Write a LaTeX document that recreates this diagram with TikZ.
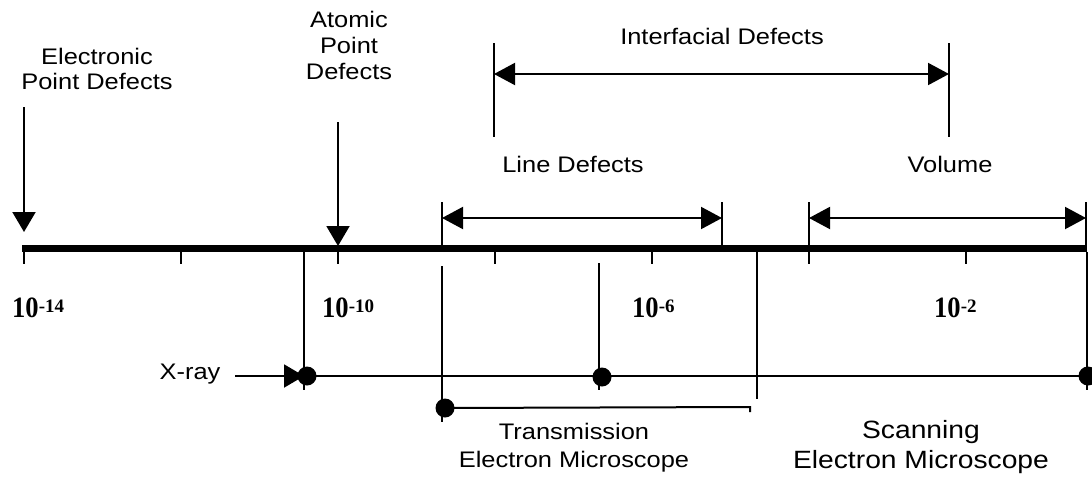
\documentclass[tikz,border=0pt]{standalone}
\usepackage{fontspec}
\newfontfamily\labfont[FakeStretch=1.13]{Liberation Sans}
\newfontfamily\numfont[FakeStretch=0.9]{Liberation Serif}
\newfontfamily\supfont{Liberation Serif}
\usetikzlibrary{arrows.meta}
\newcommand\myexp[1]{\raisebox{5pt}{\supfont\bfseries\fontsize{19}{20}\selectfont #1}}
\begin{document}
\begin{tikzpicture}[x=1pt,y=-1pt,
  thinline/.style={line width=2pt},
  axisline/.style={line width=7pt},
  lab/.style={font=\labfont\fontsize{22.5}{25.5}\selectfont, inner sep=0pt, align=center},
  big/.style={font=\labfont\fontsize{25}{30}\selectfont, inner sep=0pt, align=center},
  num/.style={font=\numfont\bfseries\fontsize{29.5}{30}\selectfont, inner sep=0pt, anchor=base west},
  dot/.style={circle, fill=black, inner sep=0pt, minimum size=19pt},
  darr/.style={line width=2pt, {Triangle[length=21pt,width=22pt]}-{Triangle[length=21pt,width=22pt]}},
  sarr/.style={line width=2pt, -{Triangle[length=20pt,width=23pt]}},
]
\useasboundingbox (0,0) rectangle (1092,477);

% labels
\node[lab] (elec) at (97,69) {Electronic\\Point Defects};
\node[lab, font=\labfont\fontsize{22.5}{26}\selectfont] (atom) at (349,45.5) {Atomic\\Point\\Defects};
\node[lab, anchor=base] (inter) at (722,44) {Interfacial Defects};
\node[lab, anchor=base] (linedef) at (573,172) {Line Defects};
\node[lab, anchor=base] (vol) at (950,172) {Volume};
\node[lab, anchor=base] (xray) at (190,379) {X-ray};
\node[lab, font=\labfont\fontsize{22.5}{28}\selectfont] (tem) at (574,448) {Transmission\\Electron Microscope};
\node[big] (sem) at (921,447) {Scanning\\Electron Microscope};

% scale labels
\node[num] (e14) at (12,317) {10\myexp{-14}};
\node[num] (e10) at (322,317) {10\myexp{-10}};
\node[num] (e6) at (632,317) {10\myexp{-6}};
\node[num] (e2) at (934,317) {10\myexp{-2}};

% coordinates
\coordinate (axL) at (22,248);
\coordinate (axR) at (1087,248);
\coordinate (elA) at (24,107);
\coordinate (elB) at (24,232);
\coordinate (atA) at (338,122);
\coordinate (atB) at (338,246);

% interfacial
\coordinate (ifL1) at (494,43); \coordinate (ifL2) at (494,137);
\coordinate (ifR1) at (949,43); \coordinate (ifR2) at (949,137);
\coordinate (ifA) at (494,74); \coordinate (ifB) at (949,74);
% line defects
\coordinate (ldL1) at (442,202); \coordinate (ldL2) at (442,245);
\coordinate (ldR1) at (722,202); \coordinate (ldR2) at (722,245);
\coordinate (ldA) at (442,218); \coordinate (ldB) at (722,218);
% volume
\coordinate (vL1) at (809,202); \coordinate (vL2) at (809,245);
\coordinate (vR1) at (1086,202); \coordinate (vR2) at (1086,245);
\coordinate (vA) at (809,218); \coordinate (vB) at (1086,218);

% arrows onto axis
\draw[sarr] (elA) -- (elB);
\draw[sarr] (atA) -- (atB);

\draw[thinline] (ifL1) -- (ifL2);
\draw[thinline] (ifR1) -- (ifR2);
\draw[darr] (ifA) -- (ifB);

\draw[thinline] (ldL1) -- (ldL2);
\draw[thinline] (ldR1) -- (ldR2);
\draw[darr] (ldA) -- (ldB);

\draw[thinline] (vL1) -- (vL2);
\draw[thinline] (vR1) -- (vR2);
\draw[darr] (vA) -- (vB);

% axis
\draw[axisline] (axL) -- (axR);
\foreach \i/\x in {0/24,1/181,2/338,3/495,4/652,5/809,6/966}{
  \coordinate (tk\i a) at (\x,251);
  \coordinate (tk\i b) at (\x,264);
  \draw[thinline] (tk\i a) -- (tk\i b);
}

% instrument ranges
\node[dot] (d1) at (307,376) {};
\node[dot] (d2) at (602,377) {};
\node[dot] (d3) at (1088,376) {};
\node[dot] (d4) at (445,408) {};

\coordinate (v1a) at (304,252); \coordinate (v1b) at (304,390);
\coordinate (v2a) at (599,263); \coordinate (v2b) at (599,390);
\coordinate (v3a) at (1087,252); \coordinate (v3b) at (1087,390);
\coordinate (v4a) at (442,266); \coordinate (v4b) at (442,422);
\coordinate (v5a) at (757,252); \coordinate (v5b) at (757,399);
\coordinate (xrA) at (235,376);
\coordinate (temE) at (750,407);
\coordinate (temT) at (750,412);

\draw[thinline] (v1a) -- (v1b);
\draw[thinline] (v2a) -- (v2b);
\draw[thinline] (v3a) -- (v3b);
\draw[thinline] (v4a) -- (v4b);
\draw[thinline] (v5a) -- (v5b);
\draw[thinline] (d1.center) -- (d3.center);
\draw[sarr] (xrA) -- ([xshift=-3pt]d1.center);
\draw[thinline] (d4.center) -- (temE) -- (temT);
\end{tikzpicture}
\end{document}
